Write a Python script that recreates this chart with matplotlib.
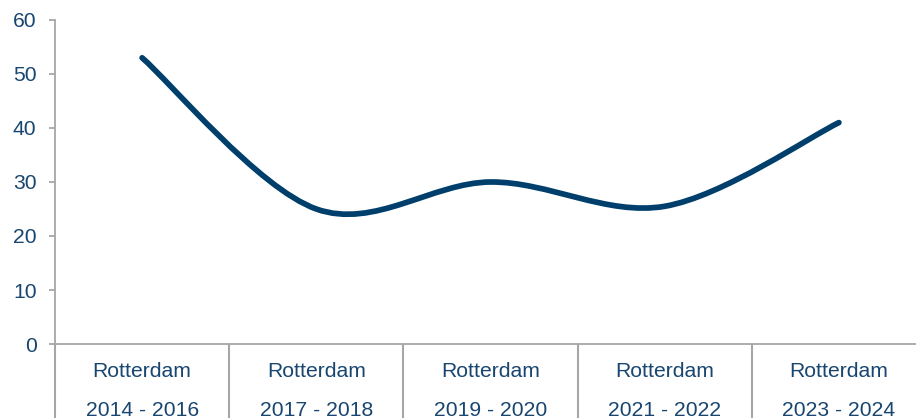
import matplotlib
matplotlib.use("Agg")
import matplotlib.pyplot as plt
import numpy as np
from matplotlib.path import Path
from matplotlib.patches import PathPatch

plt.rcParams['font.family'] = ['Liberation Sans', 'DejaVu Sans']

cities = ["Rotterdam", "Rotterdam", "Rotterdam", "Rotterdam", "Rotterdam"]
periods = ["2014 - 2016", "2017 - 2018", "2019 - 2020", "2021 - 2022", "2023 - 2024"]
values = [53, 25, 30, 25.5, 41]
yticks = [0, 10, 20, 30, 40, 50, 60]

text_color = "#184670"
line_color = "#003F6B"
axis_color = "#A6A6A6"

W, H = 916, 418
fig = plt.figure(figsize=(W / 100, H / 100), dpi=100)
x0, x1 = 55, 926
y0, y1 = 344, 20
ax = fig.add_axes([x0 / W, (H - y0) / H, (x1 - x0) / W, (y0 - y1) / H])
ax.set_xlim(-0.5, len(values) - 0.5)
ax.set_ylim(0, 60)

# Smoothed line (Catmull-Rom style Bezier like Excel's smoothed line)
xs = np.arange(len(values), dtype=float)
ys = np.array(values, dtype=float)
pts = np.column_stack([xs, ys])
verts = [tuple(pts[0])]
codes = [Path.MOVETO]
n = len(pts)
for i in range(n - 1):
    p_prev = pts[i - 1] if i > 0 else pts[i]
    p0 = pts[i]
    p1 = pts[i + 1]
    p_next = pts[i + 2] if i + 2 < n else pts[i + 1]
    c1 = p0 + (p1 - p_prev) / 6.0
    c2 = p1 - (p_next - p0) / 6.0
    verts += [tuple(c1), tuple(c2), tuple(p1)]
    codes += [Path.CURVE4] * 3
patch = PathPatch(Path(verts, codes), facecolor="none", edgecolor=line_color,
                  lw=4.1, capstyle="round", joinstyle="round", zorder=3)
ax.add_patch(patch)

# Axes styling
for s in ["top", "right"]:
    ax.spines[s].set_visible(False)
for s in ["left", "bottom"]:
    ax.spines[s].set_color(axis_color)
    ax.spines[s].set_linewidth(1.3)
ax.spines["left"].set_bounds(0, 60)

ax.set_yticks(yticks)
ax.set_yticklabels([str(v) for v in yticks])
ax.tick_params(axis="y", direction="out", length=4.3, width=1.3, color=axis_color,
               labelsize=15.2, labelcolor=text_color, pad=9.0)

# Category separators as long major ticks
ax.set_xticks(np.arange(-0.5, len(values), 1.0))
ax.set_xticklabels([])
ax.tick_params(axis="x", direction="out", length=56, width=1.5, color=axis_color)

# Two-line category labels
for i, (c, p) in enumerate(zip(cities, periods)):
    ax.text(i, -6.1, c, ha="center", va="baseline", fontsize=15.2,
            color=text_color, clip_on=False)
    ax.text(i, -13.4, p, ha="center", va="baseline", fontsize=15.2,
            color=text_color, clip_on=False)

fig.savefig("out.png", dpi=100)
